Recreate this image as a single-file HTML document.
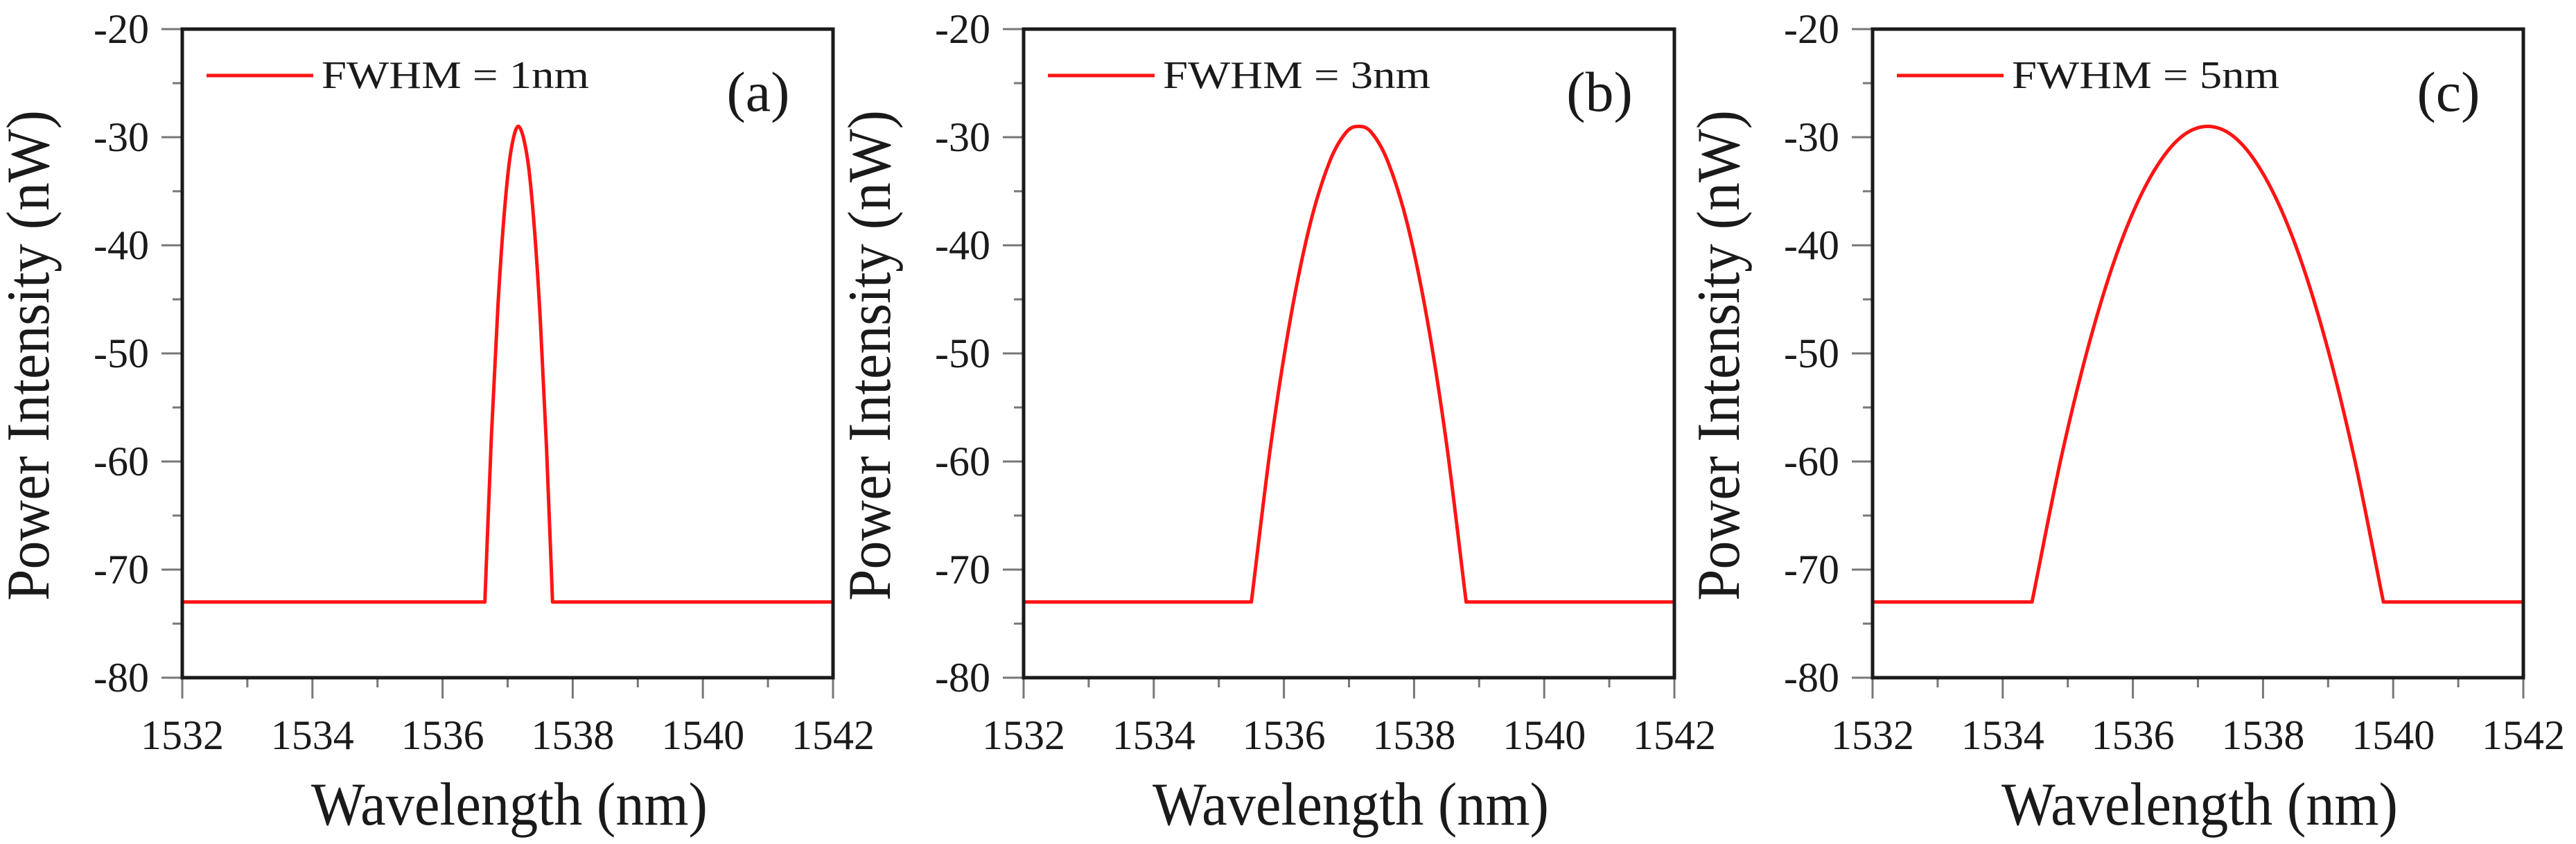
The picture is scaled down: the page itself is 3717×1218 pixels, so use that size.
<!DOCTYPE html>
<html><head><meta charset="utf-8"><style>
html,body{margin:0;padding:0;background:#fff}
svg{display:block}
text{font-family:"Liberation Serif","Times New Roman",serif;fill:#1a1a1a}
</style></head><body>
<svg id="fig" width="3717" height="1218" viewBox="0 0 3717 1218" xmlns="http://www.w3.org/2000/svg"></svg>
<script>
// ---- data ----
const xTicks = [1532, 1534, 1536, 1538, 1540, 1542];
const yTicks = [-20, -30, -40, -50, -60, -70, -80];
const panelLabels = ["(a)", "(b)", "(c)"];
const legendLabels = ["FWHM = 1nm", "FWHM = 3nm", "FWHM = 5nm"];
const waveA = [1532, 1536.65, 1536.75, 1536.85, 1536.95, 1537.05, 1537.17, 1537.3, 1537.4, 1537.5, 1537.6, 1537.69, 1542];
const powerA = [-73, -73, -57.7, -45.7, -36.9, -31.3, -29, -31.8, -37.6, -46.7, -59.1, -73, -73];
const waveB = [1532, 1535.5, 1535.8, 1536.1, 1536.4, 1536.7, 1536.95, 1537.15, 1537.35, 1537.6, 1537.9, 1538.2, 1538.5, 1538.8, 1542];
const powerB = [-73, -73, -58.4, -46.8, -38.1, -32.3, -29.6, -29, -29.6, -32.3, -38.1, -46.8, -58.4, -73, -73];
const waveC = [1532, 1534.45, 1534.9, 1535.35, 1535.8, 1536.25, 1536.7, 1537.15, 1537.6, 1538.05, 1538.5, 1538.95, 1539.4, 1539.85, 1542];
const powerC = [-73, -73, -59.6, -48.6, -40, -33.9, -30.2, -29, -30.2, -33.9, -40, -48.6, -59.6, -73, -73];

const NS = "http://www.w3.org/2000/svg";
const FONT = '"Liberation Serif", "Times New Roman", serif';
const svg = document.getElementById("fig");
function mk(tag, attrs, parent) {
  const e = document.createElementNS(NS, tag);
  for (const k in attrs) e.setAttribute(k, attrs[k]);
  if (tag === "text") e.setAttribute("font-family", FONT);
  (parent || svg).appendChild(e);
  return e;
}
const panels = [
  {left: 263, waves: waveA, powers: powerA},
  {left: 1477, waves: waveB, powers: powerB},
  {left: 2702, waves: waveC, powers: powerC}
];
const W = 939, TOP = 42, BOT = 978;
panels.forEach((p, i) => {
  const L = p.left, R = L + W;
  const xs = v => L + (v - 1532) / 10 * W;
  const ys = v => TOP + (-20 - v) / 60 * (BOT - TOP);
  const g = mk("g", {});
  
  
  for (let v = -20; v >= -80; v -= 5) {
    const major = v % 10 === 0;
    const t = mk("line", {x1: L - (major ? 30 : 14), x2: L, y1: ys(v), y2: ys(v), stroke: "#777", "stroke-width": 3}, g);
    
    
  }
  for (let v = 1532; v <= 1542; v += 1) {
    const major = v % 2 === 0;
    const t = mk("line", {x1: xs(v), x2: xs(v), y1: BOT, y2: BOT + (major ? 30 : 14), stroke: "#777", "stroke-width": 3}, g);
    
    
  }
  yTicks.forEach(v => {
    const t = mk("text", {x: L - 48, y: ys(v) + 20, "font-size": 60, "text-anchor": "end"}, g);
    t.textContent = v;
    
    
  });
  xTicks.forEach(v => {
    const t = mk("text", {x: xs(v), y: 1081, "font-size": 60, "text-anchor": "middle"}, g);
    t.textContent = v;
    
    
  });
  const pts = p.waves.map((w, k) => [xs(w), ys(p.powers[k])]);
  let d = "M" + pts[0][0] + "," + pts[0][1] + " L" + pts[1][0] + "," + pts[1][1];
  const n = pts.length;
  for (let k = 1; k < n - 2; k++) {
    const p0 = pts[k - 1], p1 = pts[k], p2 = pts[k + 1], p3 = pts[k + 2];
    let c1x = p1[0] + (p2[0] - p0[0]) / 6, c1y = p1[1] + (p2[1] - p0[1]) / 6;
    let c2x = p2[0] - (p3[0] - p1[0]) / 6, c2y = p2[1] - (p3[1] - p1[1]) / 6;
    if (k === 1) { c1x = p1[0] + (p2[0] - p1[0]) / 3; c1y = p1[1] + (p2[1] - p1[1]) / 3; }
    if (k === n - 3) { c2x = p2[0] - (p2[0] - p1[0]) / 3; c2y = p2[1] - (p2[1] - p1[1]) / 3; }
    d += " C" + c1x + "," + c1y + " " + c2x + "," + c2y + " " + p2[0] + "," + p2[1];
  }
  d += " L" + pts[n - 1][0] + "," + pts[n - 1][1];
  const line = mk("path", {d: d, fill: "none", stroke: "#ff1414", "stroke-width": 5, "stroke-linejoin": "round"}, g);
  
  
  const fr = mk("rect", {x: L, y: TOP, width: W, height: BOT - TOP, fill: "none", stroke: "#1a1a1a", "stroke-width": 5}, g);
  
  
  const lg = mk("g", {}, g);
  
  
  mk("line", {x1: L + 35, x2: L + 189, y1: 109, y2: 109, stroke: "#ff1414", "stroke-width": 5}, lg);
  const lt = mk("text", {x: L + 201, y: 127, "font-size": 56, textLength: 386, lengthAdjust: "spacingAndGlyphs"}, lg);
  lt.textContent = legendLabels[i];
  const pl = mk("text", {x: R - 108, y: 160, "font-size": 82, "text-anchor": "middle"}, g);
  pl.textContent = panelLabels[i];
  
  
  const xt = mk("text", {x: L + 472, y: 1190, "font-size": 88, "text-anchor": "middle", textLength: 572, lengthAdjust: "spacingAndGlyphs"}, g);
  xt.textContent = "Wavelength (nm)";
  
  
  const cx = L - 193, cy = 513;
  const yt = mk("text", {x: cx, y: cy, "font-size": 88, "text-anchor": "middle", transform: "rotate(-90 " + cx + " " + cy + ")", textLength: 708, lengthAdjust: "spacingAndGlyphs"}, g);
  yt.textContent = "Power Intensity (nW)";
  
  
});
</script>
</body></html>
